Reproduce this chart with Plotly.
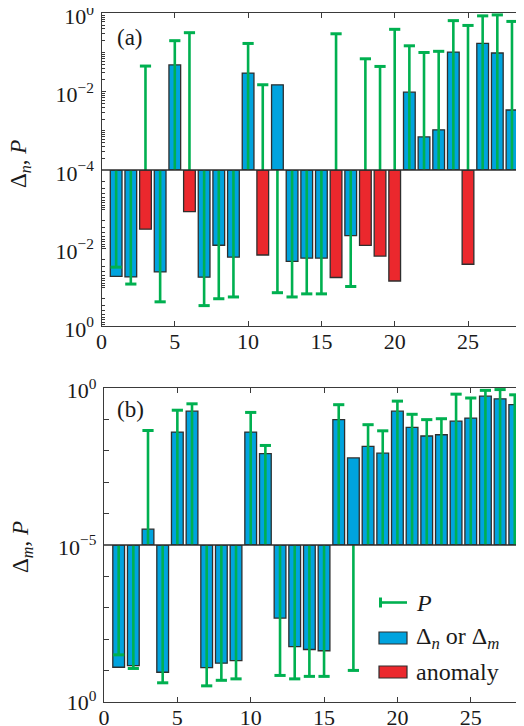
import plotly.graph_objects as go

# ---------------- data ----------------
N = list(range(1, 29))

# signed values: positive -> drawn above the baseline, negative -> below
DELTA_N = [-5.3e-2, -5.5e-2, -3.2e-3, -4.1e-2, 4.8e-2, -1.07e-3, -5.6e-2, -8.4e-3,
           -1.7e-2, 2.97e-2, -1.5e-2, 1.48e-2, -2.2e-2, -1.8e-2, -1.8e-2, -5.7e-2,
           -4.7e-3, -8.5e-3, -1.6e-2, -7.0e-2, 9.6e-3, 6.0e-4, 9.6e-4, 0.102,
           -2.6e-2, 0.17, 0.097, 3.3e-3]

DELTA_M = [-7.7e-2, -6.8e-2, 2.2e-5, -0.111, 4.0e-2, 0.186, -7.9e-2, -5.7e-2,
           -4.7e-2, 4.0e-2, 8.2e-3, -2.1e-3, -1.7e-2, -2.1e-2, -2.3e-2, 0.10,
           6.0e-3, 1.4e-2, 8.5e-3, 0.186, 5.7e-2, 3.0e-2, 3.3e-2, 8.9e-2,
           0.112, 0.56, 0.46, 0.30]

P = [-3.1e-2, -8.4e-2, 4.5e-2, -0.24, 0.20, 0.32, -0.30, -0.20,
     -0.18, 0.17, 1.5e-2, -0.14, -0.18, -0.15, -0.15, 0.30,
     -0.097, 6.9e-2, 4.4e-2, 0.39, 0.148, 0.10, 0.107, 0.65,
     0.49, 0.86, 0.91, 0.62]

ANOMALY_A = [3, 6, 11, 16, 18, 19, 20, 25]
ANOMALY_B = []

BASE_A = 1e-4
BASE_B = 1e-5

X_TICKS = [0, 5, 10, 15, 20, 25]
X_TICKTEXT = ["0", "5", "10", "15", "20", "25"]

# ---------------- style ----------------
VIEW_W, VIEW_H = 524, 726
PAGE_MARGIN = 8          # default <body> margin of the page
W, H = VIEW_W - PAGE_MARGIN, VIEW_H - PAGE_MARGIN
BLUE = "#00A3DE"
RED = "#EB282D"
GREEN = "#00B050"
EDGE = "#2E2E2E"
AX = "#3A3A3A"
FONT = "Liberation Serif"
TXT = "#1a1a1a"


def px(x):
    """window pixel x -> paper fraction"""
    return (x - PAGE_MARGIN) / W


def py(y):
    """window pixel y -> paper fraction"""
    return 1 - (y - PAGE_MARGIN) / H


fig = go.Figure()


def add_panel(delta, anomalies, base, xa, y_up, y_dn):
    for yax, sign in ((y_up, 1), (y_dn, -1)):
        xs, ys, cs = [], [], []
        for n, d in zip(N, delta):
            if d * sign > 0:
                xs.append(n)
                ys.append(abs(d))
                cs.append(RED if n in anomalies else BLUE)
        fig.add_trace(go.Bar(
            x=xs, y=ys, base=base, width=0.8,
            marker=dict(color=cs, line=dict(color=EDGE, width=1.3)),
            xaxis=xa, yaxis=yax, showlegend=False, hoverinfo="skip"))
    for yax, sign in ((y_up, 1), (y_dn, -1)):
        lx, ly, mx, my = [], [], [], []
        for n, p in zip(N, P):
            if p * sign > 0:
                lx += [n, n, None]
                ly += [base, abs(p), None]
                mx.append(n)
                my.append(abs(p))
        fig.add_trace(go.Scatter(
            x=lx, y=ly, mode="lines", line=dict(color=GREEN, width=2.6),
            xaxis=xa, yaxis=yax, showlegend=False, hoverinfo="skip",
            cliponaxis=False))
        fig.add_trace(go.Scatter(
            x=mx, y=my, mode="markers",
            marker=dict(symbol="line-ew", size=8, line=dict(color=GREEN, width=3)),
            xaxis=xa, yaxis=yax, showlegend=False, hoverinfo="skip",
            cliponaxis=False))


add_panel(DELTA_N, ANOMALY_A, BASE_A, "x", "y", "y2")
add_panel(DELTA_M, ANOMALY_B, BASE_B, "x2", "y3", "y4")

# invisible traces so the top mirror axes are created
fig.add_trace(go.Scatter(x=[1], y=[1e-2], mode="markers", marker=dict(opacity=0),
                         xaxis="x3", yaxis="y", showlegend=False, hoverinfo="skip"))
fig.add_trace(go.Scatter(x=[1], y=[1e-2], mode="markers", marker=dict(opacity=0),
                         xaxis="x4", yaxis="y3", showlegend=False, hoverinfo="skip"))

tickfont = dict(family=FONT, size=22, color=TXT)

xa_left, xb_left = 101.5, 104.0
xa_scale, xb_scale = 14.66, 14.67

line_x = dict(ticks="inside", ticklen=5, tickwidth=1.2, tickcolor=AX,
              showline=True, linecolor=AX, linewidth=1.3, showgrid=False,
              zeroline=False, tickvals=X_TICKS, automargin=False,
              ticklabeloverflow="allow")
common_x = dict(line_x, ticktext=X_TICKTEXT, tickfont=tickfont, ticklabelstandoff=-5)

layout = dict(
    width=W, height=H, margin=dict(l=0, r=0, t=0, b=0, pad=0, autoexpand=False),
    paper_bgcolor="white", plot_bgcolor="white", showlegend=False,
    xaxis=dict(domain=[px(xa_left), 1], range=[0, (VIEW_W - xa_left) / xa_scale],
               anchor="y2", **common_x),
    xaxis3=dict(overlaying="x", matches="x", anchor="y", side="top",
                showticklabels=False, **line_x),
    xaxis2=dict(domain=[px(xb_left), 1], range=[0, (VIEW_W - xb_left) / xb_scale],
                anchor="y4", **common_x),
    xaxis4=dict(overlaying="x2", matches="x2", anchor="y3", side="top",
                showticklabels=False, **line_x),
)

sup = lambda e: "10<sup>%s</sup>" % e

common_y = dict(type="log", ticks="inside", ticklen=4.5, tickwidth=1.2, tickcolor=AX,
                showline=True, linecolor=AX, linewidth=1.3, showgrid=False,
                zeroline=False, tickfont=tickfont, automargin=False,
                ticklabeloverflow="allow", ticklabelstandoff=2)

# panel (a): labelled decades as major ticks, remaining decades and 2..9 as minor ticks
minor_a = [k * 10 ** d for d in range(-4, 0) for k in range(1, 10)
           if not (k == 1 and d in (-4, -2))]
minor_a_style = dict(ticks="inside", tickvals=minor_a, ticklen=3,
                     tickcolor=AX, tickwidth=1)
# panel (b): only decade ticks
minor_b = [1e-1, 1e-2, 1e-3, 1e-4]
minor_b_style = dict(ticks="inside", tickvals=minor_b, ticklen=4.5,
                     tickcolor=AX, tickwidth=1.2)

# labels sit a few px below their ticks, as in the reference
layout["yaxis"] = dict(domain=[py(170), py(13.3)], range=[-4, 0], anchor="x",
                       tickvals=[1, 1e-2, 1e-4],
                       ticktext=[sup("0"), sup("−2"), sup("−4")],
                       ticklabelshift=3,
                       minor=minor_a_style, **common_y)
layout["yaxis2"] = dict(domain=[py(326), py(170)], range=[0, -4], anchor="x",
                        tickvals=[1, 1e-2],
                        ticktext=[sup("0"), sup("−2")],
                        ticklabelshift=-3,
                        minor=minor_a_style, **common_y)
layout["yaxis3"] = dict(domain=[py(545), py(388.3)], range=[-5, 0], anchor="x2",
                        tickvals=[1, 1e-5],
                        ticktext=[sup("0"), sup("−5")],
                        ticklabelshift=2,
                        minor=minor_b_style, **common_y)
layout["yaxis4"] = dict(domain=[py(702.3), py(545)], range=[0, -5], anchor="x2",
                        tickvals=[1],
                        ticktext=[sup("0")],
                        ticklabelshift=0,
                        minor=minor_b_style, **common_y)

fig.update_layout(**layout)

# baselines
for xr, yr in (("x domain", "y domain"), ("x2 domain", "y3 domain")):
    fig.add_shape(type="line", xref=xr, yref=yr, x0=0, x1=1, y0=0, y1=0,
                  line=dict(color=EDGE, width=1.6))

# panel labels and axis titles
ann_font = dict(family=FONT, size=23, color=TXT)
fig.add_annotation(text="(a)", xref="paper", yref="paper", x=px(115), y=py(37),
                   xanchor="left", yanchor="middle", showarrow=False, font=ann_font)
fig.add_annotation(text="(b)", xref="paper", yref="paper", x=px(115), y=py(409),
                   xanchor="left", yanchor="middle", showarrow=False, font=ann_font)
fig.add_annotation(text="Δ<sub><i>n</i></sub>, <i>P</i>", xref="paper", yref="paper",
                   x=px(20), y=py(164), textangle=-90, showarrow=False, font=ann_font,
                   xanchor="center", yanchor="middle")
fig.add_annotation(text="Δ<sub><i>m</i></sub>, <i>P</i>", xref="paper", yref="paper",
                   x=px(22), y=py(547), textangle=-90, showarrow=False, font=ann_font,
                   xanchor="center", yanchor="middle")

# legend (drawn manually to match key shapes)
leg_font = dict(family=FONT, size=24, color=TXT)
fig.add_shape(type="line", xref="paper", yref="paper", x0=px(379), x1=px(407),
              y0=py(602.5), y1=py(602.5), line=dict(color=GREEN, width=2.6))
fig.add_shape(type="line", xref="paper", yref="paper", x0=px(380.5), x1=px(380.5),
              y0=py(597.5), y1=py(607.5), line=dict(color=GREEN, width=3))
fig.add_shape(type="rect", xref="paper", yref="paper", x0=px(379), x1=px(407),
              y0=py(632), y1=py(644), fillcolor=BLUE, line=dict(color=EDGE, width=1.2))
fig.add_shape(type="rect", xref="paper", yref="paper", x0=px(379), x1=px(407),
              y0=py(666), y1=py(678), fillcolor=RED, line=dict(color=EDGE, width=1.2))
for txt, yy in (("<i>P</i>", 602.5), ("Δ<sub><i>n</i></sub> or Δ<sub><i>m</i></sub>", 638),
                ("anomaly", 672)):
    fig.add_annotation(text=txt, xref="paper", yref="paper", x=px(414), y=py(yy),
                       xanchor="left", yanchor="middle", showarrow=False, font=leg_font)

fig.write_html("out.html")
